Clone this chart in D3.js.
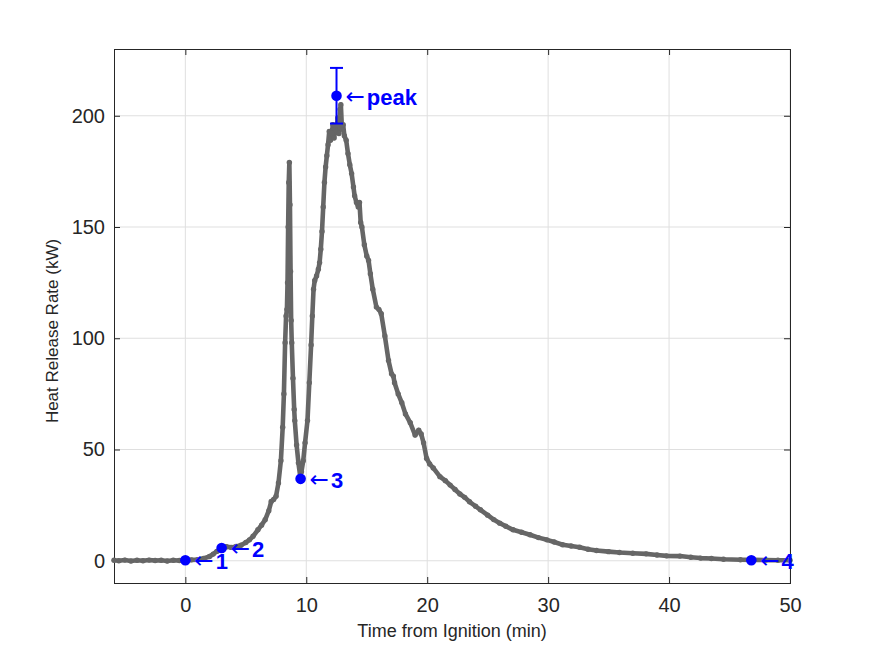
<!DOCTYPE html>
<html>
<head>
<meta charset="utf-8">
<script src="https://cdnjs.cloudflare.com/ajax/libs/d3/7.8.5/d3.min.js"></script>
<style>
body { margin: 0; background: #fff; }
text { font-family: "Liberation Sans", Arial, Helvetica, sans-serif; }
</style>
</head>
<body>
<div id="chart"></div>
<script>
// heat release curve (min, kW)
var time = [-5.9, -5.5, -5.0, -4.5, -4.0, -3.5, -3.0, -2.5, -2.0, -1.5, -1.0, -0.5,
	0.0, 0.5, 1.0, 1.5, 2.0, 2.3, 2.6, 3.0, 3.4, 3.8, 4.2, 4.6, 5.0, 5.3, 5.6, 6.0,
	6.3, 6.6, 6.9, 7.1, 7.3, 7.5, 7.7, 7.9, 8.05, 8.15, 8.25, 8.33, 8.4, 8.45, 8.5,
	8.55, 8.6, 8.65, 8.7, 8.75, 8.8, 8.9, 9.0, 9.05, 9.2, 9.35, 9.5, 9.6, 9.75, 9.9,
	10.1, 10.25, 10.4, 10.5, 10.6, 10.7, 10.85, 11.0, 11.1, 11.2, 11.3, 11.4, 11.5,
	11.6, 11.7, 11.8, 11.9, 12.0, 12.1, 12.2, 12.3, 12.4, 12.5, 12.6, 12.7, 12.8,
	12.86, 12.95, 13.05, 13.15, 13.3, 13.45, 13.6, 13.75, 13.9, 14.0, 14.15, 14.3,
	14.4, 14.5, 14.6, 14.8, 15.0, 15.15, 15.3, 15.5, 15.8, 16.0, 16.2, 16.5, 16.8,
	17.05, 17.2, 17.3, 17.6, 17.9, 18.2, 18.6, 19.0, 19.3, 19.5, 19.7, 19.95, 20.2,
	20.5, 21.05, 21.5, 21.9, 22.3, 22.7, 23.1, 23.5, 24.0, 24.4, 25.0, 25.5, 26.0,
	26.5, 27.1, 27.8, 28.5, 29.2, 29.9, 30.5, 31.2, 31.9, 32.6, 33.3, 34.0, 35.0,
	35.9, 37.0, 38.1, 39.0, 39.8, 40.9, 41.8, 42.6, 43.5, 44.5, 45.9, 47.0, 48.0,
	49.0, 50.0];
var hrr = [0.2, 0.0, 0.3, -0.1, 0.2, 0.0, 0.3, 0.1, 0.2, -0.1, 0.2, 0.1,
	0.3, 0.4, 0.5, 1.0, 1.9, 3.0, 4.2, 5.6, 6.3, 6.0, 6.4, 7.0, 8.2, 9.4, 11.0, 13.9,
	16.0, 18.4, 22.5, 26.6, 27.5, 29.0, 35, 45, 60, 75, 98, 110, 113, 125, 150,
	170, 179, 160, 130, 108, 98, 82, 68, 63, 52, 44, 38, 40, 45, 53,
	63, 80, 97, 110, 122, 126, 128, 131, 134, 140, 148, 159, 170,
	177, 182, 187, 193, 189, 192, 196, 190, 194, 193, 199, 192, 203,
	205, 194, 196, 191, 189, 183, 178, 174, 168, 164, 161, 159,
	161, 152, 150, 142, 137, 135, 129, 122, 114, 113, 111, 101, 90,
	84, 83, 80, 75, 71, 66, 62, 56.5, 58.7, 57, 53, 46, 43.5,
	41.7, 37.8, 36, 34, 32, 30, 28.5, 26.5, 24.5, 22.9, 20.5, 18.5, 16.9,
	15.5, 13.9, 12.8, 11.7, 10.4, 9.4, 8.4, 7.2, 6.6, 6.1, 5.2, 4.6, 4.1,
	3.7, 3.4, 3.1, 2.6, 2.2, 2.1, 1.6, 1.2, 1.0, 0.7, 0.45, 0.4, 0.3,
	0.2, 0.2];

var xTicks = [0, 10, 20, 30, 40, 50];
var yTicks = [0, 50, 100, 150, 200];

// marked points
var markT      = [0, 3, 9.53, 12.5, 46.8];
var markQ      = [0.2, 5.7, 36.8, 209, 0.2];
var markLabels = ['1', '2', '3', 'peak', '4'];
var peakErr    = [196.5, 221.5];

var W = 875, H = 656;
var axL = 114, axR = 790, axT = 49, axB = 583;

var svg = d3.select('#chart').append('svg')
	.attr('width', W)
	.attr('height', H);

svg.append('rect')
	.attr('width', W)
	.attr('height', H)
	.attr('fill', '#fff');

var x = d3.scaleLinear().domain([-5.9, 50]).range([axL, axR]);
var y = d3.scaleLinear().domain([-10, 230]).range([axB, axT]);

// grid
svg.append('g').selectAll('line').data(xTicks).join('line')
	.attr('x1', function(d){ return x(d); })
	.attr('x2', function(d){ return x(d); })
	.attr('y1', axT).attr('y2', axB)
	.attr('stroke', '#dfdfdf').attr('stroke-width', 1);

svg.append('g').selectAll('line').data(yTicks).join('line')
	.attr('y1', function(d){ return y(d); })
	.attr('y2', function(d){ return y(d); })
	.attr('x1', axL).attr('x2', axR)
	.attr('stroke', '#dfdfdf').attr('stroke-width', 1);

// axes, ticks pointing inward
function styleAxis(g) {
	g.select('.domain').remove();
	g.selectAll('line').attr('stroke', '#262626');
	g.selectAll('text').attr('fill', '#262626').attr('font-size', 20)
		.attr('font-family', '"Liberation Sans", Arial, sans-serif');
}

svg.append('g')
	.attr('transform', 'translate(0,' + axB + ')')
	.call(d3.axisBottom(x).tickValues(xTicks).tickSizeInner(-6).tickSizeOuter(0).tickPadding(15))
	.call(styleAxis);

svg.append('g')
	.attr('transform', 'translate(0,' + axT + ')')
	.call(d3.axisTop(x).tickValues(xTicks).tickSizeInner(-6).tickSizeOuter(0).tickFormat(''))
	.call(styleAxis);

svg.append('g')
	.attr('transform', 'translate(' + axL + ',0)')
	.call(d3.axisLeft(y).tickValues(yTicks).tickSizeInner(-6).tickSizeOuter(0).tickPadding(9))
	.call(styleAxis);

svg.append('g')
	.attr('transform', 'translate(' + axR + ',0)')
	.call(d3.axisRight(y).tickValues(yTicks).tickSizeInner(-6).tickSizeOuter(0).tickFormat(''))
	.call(styleAxis);

svg.append('rect')
	.attr('x', axL + 0.5).attr('y', axT + 0.5)
	.attr('width', axR - axL).attr('height', axB - axT)
	.attr('fill', 'none')
	.attr('stroke', '#262626')
	.attr('stroke-width', 1);

// curve
var pts = time.map(function(t, i){ return [t, hrr[i]]; });

var line = d3.line()
	.x(function(d){ return x(d[0]); })
	.y(function(d){ return y(d[1]); });

svg.append('path')
	.datum(pts)
	.attr('d', line)
	.attr('fill', 'none')
	.attr('stroke', '#666666')
	.attr('stroke-width', 4.6)
	.attr('stroke-linejoin', 'round')
	.attr('stroke-linecap', 'round');

svg.append('g').selectAll('circle').data(pts).join('circle')
	.attr('cx', function(d){ return x(d[0]); })
	.attr('cy', function(d){ return y(d[1]); })
	.attr('r', 2.7)
	.attr('fill', '#666666');

// error bar on peak
var px = x(markT[3]);
var eb = svg.append('g').attr('stroke', '#0000ff').attr('stroke-width', 2);
eb.append('line').attr('x1', px).attr('x2', px).attr('y1', y(peakErr[0])).attr('y2', y(peakErr[1]));
eb.append('line').attr('x1', px - 6.5).attr('x2', px + 6.5).attr('y1', y(peakErr[0])).attr('y2', y(peakErr[0]));
eb.append('line').attr('x1', px - 6.5).attr('x2', px + 6.5).attr('y1', y(peakErr[1])).attr('y2', y(peakErr[1]));

// markers + labels
svg.append('g').selectAll('circle').data(markT).join('circle')
	.attr('cx', function(d){ return x(d); })
	.attr('cy', function(d, i){ return y(markQ[i]); })
	.attr('r', 5.3)
	.attr('fill', '#0000ff');

var lab = svg.append('g').selectAll('text').data(markT).join('text')
	.attr('x', function(d){ return x(d) + 9; })
	.attr('y', function(d, i){ return y(markQ[i]) + 9; })
	.attr('fill', '#0000ff')
	.attr('font-size', 22);

lab.append('tspan')
	.attr('font-family', '"DejaVu Sans", sans-serif')
	.attr('font-size', 23)
	.attr('dy', -1)
	.attr('font-weight', 'normal')
	.text('\u2190');
lab.append('tspan')
	.attr('dx', 2)
	.attr('dy', 1)
	.attr('font-weight', 'bold')
	.text(function(d, i){ return markLabels[i]; });

// axis labels
svg.append('text')
	.attr('x', (axL + axR) / 2)
	.attr('y', 637)
	.attr('text-anchor', 'middle')
	.attr('font-size', 18)
	.attr('fill', '#262626')
	.text('Time from Ignition (min)');

svg.append('text')
	.attr('transform', 'translate(58,331) rotate(-90)')
	.attr('text-anchor', 'middle')
	.attr('font-size', 17)
	.attr('fill', '#262626')
	.text('Heat Release Rate (kW)');
</script>
</body>
</html>
